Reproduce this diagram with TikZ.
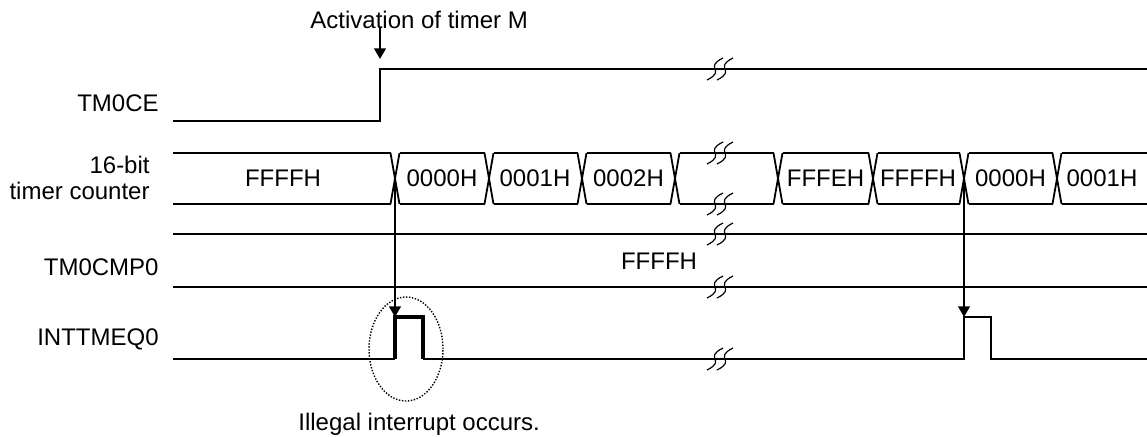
\documentclass[tikz,border=0pt]{standalone}
\usepackage{fontspec}
\setmainfont{Liberation Sans}
\usetikzlibrary{arrows.meta,shapes.geometric}

\begin{document}
\begin{tikzpicture}[x=0.5pt,y=-0.5pt, font=\fontsize{12}{14}\selectfont,
    every node/.style={inner sep=0pt},
    sig/.style={line width=0.9pt},
    arr/.style={line width=1.1pt, -{Triangle[length=5.3pt,width=5.8pt]}},
    brk/.style={line width=0.6pt}]
      \useasboundingbox (0,0) rectangle (1147,436);
      % Signal names
      \node[anchor=east] (lbCE) at (159,103) {TM0CE};
      \node[anchor=east] (lbCntA) at (150,165) {16-bit};
      \node[anchor=east] (lbCntB) at (150,191) {timer counter};
      \node[anchor=east] (lbCmp) at (159,267) {TM0CMP0};
      \node[anchor=east] (lbInt) at (159,339) {INTTMEQ0};
      % TM0CE
      \node[anchor=base west] (act) at (310,28) {Activation of timer M};
      \draw[sig] (173,121) -- (380,121) -- (380,69) -- (1147,69);
      \coordinate (actTip) at (380,59);
      \draw[arr] (act.base -| actTip) -- (actTip);
      % 16-bit timer counter
      \foreach \a/\b in {173/390.5, 399.5/484.5, 493.5/577.5, 586.5/670.5,
                         679.5/773.5, 782.5/868.5, 877.5/959.5, 968.5/1052.5, 1061.5/1147}{
        \draw[sig] (\a,153) -- (\b,153);
        \draw[sig] (\a,204) -- (\b,204);
      }
      \foreach \c in {395,489,582,675,778,873,964,1057}{
        \draw[sig] (\c-4.5,153) -- (\c+4.5,204);
        \draw[sig] (\c-4.5,204) -- (\c+4.5,153);
      }
      \foreach \xc/\txt [count=\i] in {283/FFFFH, 442/0000H, 535/0001H, 628.5/0002H,
                                        825.5/FFFEH, 918/FFFFH, 1010.5/0000H, 1102/0001H}{
        \node (cnt\i) at (\xc,178.5) {\txt};
      }
      % TM0CMP0
      \draw[sig] (173,234) -- (1147,234);
      \draw[sig] (173,287) -- (1147,287);
      \node (cmpVal) at (659,261) {FFFFH};
      % INTTMEQ0
      \draw[sig] (173,359) -- (395,359);
      \draw[line width=1.6pt] (395,359) -- (395,317) -- (423,317) -- (423,359);
      \draw[sig] (423,359) -- (964,359) -- (964,317) -- (991,317) -- (991,359) -- (1147,359);
      % Match arrows
      \coordinate (xA) at (395,178.5);
      \coordinate (pA) at (395,317);
      \coordinate (xB) at (964,178.5);
      \coordinate (pB) at (964,317);
      \draw[arr] (xA) -- (pA);
      \draw[arr] (xB) -- (pB);
      % Illegal interrupt
      \node[ellipse, draw, line width=0.7pt, dash pattern=on 0.7pt off 0.8pt,
            minimum width=37pt, minimum height=52pt] (illEll) at (406,349) {};
      \node[anchor=base west] (ill) at (298,430) {Illegal interrupt occurs.};
      % Break marks
      \foreach \y in {69,153,204,234,287,359}{
        \foreach \dx in {-5,5}{
          \draw[brk, shift={(720+\dx,\y)}] (-8,11) .. controls (12,1) and (-12,-1) .. (8,-11);
        }
      }
\end{tikzpicture}
\end{document}
